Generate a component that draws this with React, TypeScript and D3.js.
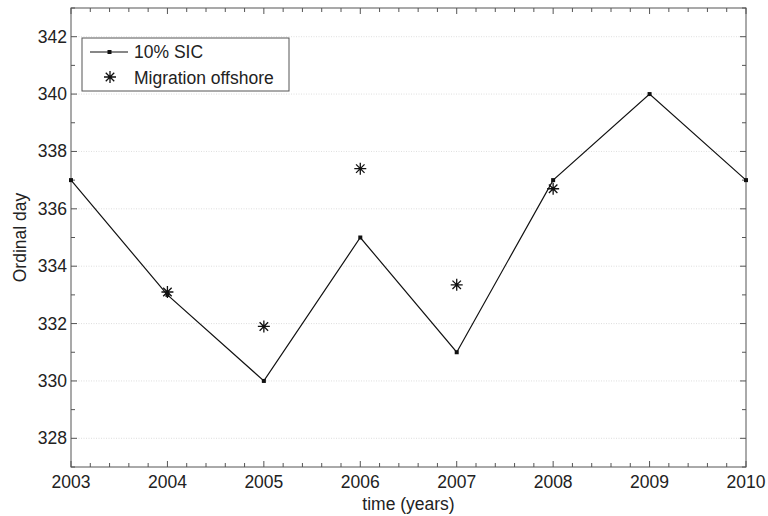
import React from "react";
import * as d3 from "d3";

const years = [2003, 2004, 2005, 2006, 2007, 2008, 2009, 2010];
const sicDay = [337, 333, 330, 335, 331, 337, 340, 337];
const migrationYears = [2004, 2005, 2006, 2007, 2008];
const migrationDay = [333.1, 331.9, 337.4, 333.35, 336.7];
const yTicks = [328, 330, 332, 334, 336, 338, 340, 342];

const W = 768;
const H = 516;
const margin = { left: 71, right: 22, top: 8, bottom: 49 };

function Asterisk({ x, y, r }: { x: number; y: number; r: number }) {
  const d = [0, 45, 90, 135]
    .map((a) => {
      const t = (a * Math.PI) / 180;
      const dx = r * Math.sin(t);
      const dy = r * Math.cos(t);
      return `M${x - dx},${y - dy}L${x + dx},${y + dy}`;
    })
    .join("");
  return <path d={d} stroke="#111" strokeWidth={1.3} fill="none" />;
}

export default function App() {
  const x = d3
    .scaleLinear()
    .domain([2003, 2010])
    .range([margin.left, W - margin.right]);
  const y = d3
    .scaleLinear()
    .domain([327, 343])
    .range([H - margin.bottom, margin.top]);

  const x0 = x.range()[0];
  const x1 = x.range()[1];
  const y0 = y.range()[0];
  const y1 = y.range()[1];

  const line = d3
    .line<number>()
    .x((_, i) => x(years[i]))
    .y((d) => y(d));

  const xMinor = d3.range(2003, 2010.001, 0.2);
  const yMinor = d3.range(327, 343.001, 1);

  const axisColor = "#555";
  const font = "Liberation Sans, Arial, sans-serif";
  const fs = 17.5;

  return (
    <svg
      width={W}
      height={H}
      style={{ position: "absolute", left: 0, top: 0, background: "#fff" }}
      fontFamily={font}
    >
      {/* horizontal grid */}
      {yTicks.map((t) => (
        <line
          key={"g" + t}
          x1={x0}
          x2={x1}
          y1={y(t)}
          y2={y(t)}
          stroke="#d6d6d6"
          strokeWidth={0.8}
          strokeDasharray="1,1.5"
        />
      ))}

      {/* x ticks, bottom and top */}
      {xMinor.map((v, i) => {
        const major = Math.abs(v - Math.round(v)) < 1e-6;
        const len = major ? 6 : 4;
        const px = x(v);
        return (
          <g key={"xt" + i}>
            <line x1={px} x2={px} y1={y0} y2={y0 - len} stroke={axisColor} />
            <line x1={px} x2={px} y1={y1} y2={y1 + len} stroke={axisColor} />
          </g>
        );
      })}
      {/* y ticks, left and right */}
      {yMinor.map((v, i) => {
        const major = yTicks.includes(v);
        const len = major ? 6 : 4;
        const py = y(v);
        return (
          <g key={"yt" + i}>
            <line x1={x0} x2={x0 + len} y1={py} y2={py} stroke={axisColor} />
            <line x1={x1} x2={x1 - len} y1={py} y2={py} stroke={axisColor} />
          </g>
        );
      })}

      {/* frame */}
      <rect
        x={x0}
        y={y1}
        width={x1 - x0}
        height={y0 - y1}
        fill="none"
        stroke={axisColor}
        strokeWidth={1}
      />

      {/* tick labels */}
      {years.map((t) => (
        <text
          key={"xl" + t}
          x={x(t)}
          y={y0 + 20.5}
          textAnchor="middle"
          fontSize={fs}
          fill="#222"
        >
          {t}
        </text>
      ))}
      {yTicks.map((t) => (
        <text
          key={"yl" + t}
          x={x0 - 4}
          y={y(t) + 6}
          textAnchor="end"
          fontSize={fs}
          fill="#222"
        >
          {t}
        </text>
      ))}

      {/* axis titles */}
      <text
        x={(x0 + x1) / 2}
        y={H - 6}
        textAnchor="middle"
        fontSize={fs}
        fill="#222"
      >
        time (years)
      </text>
      <text
        transform={`translate(26,${(y0 + y1) / 2}) rotate(-90)`}
        textAnchor="middle"
        fontSize={fs}
        fill="#222"
      >
        Ordinal day
      </text>

      {/* 10% SIC series */}
      <path d={line(sicDay) ?? ""} fill="none" stroke="#111" strokeWidth={1.2} />
      {sicDay.map((d, i) => (
        <rect
          key={"m" + i}
          x={x(years[i]) - 2}
          y={y(d) - 2}
          width={4}
          height={4}
          fill="#111"
        />
      ))}

      {/* migration offshore */}
      {migrationDay.map((d, i) => (
        <Asterisk key={"a" + i} x={x(migrationYears[i])} y={y(d)} r={6} />
      ))}

      {/* legend */}
      <rect x={82} y={38} width={207} height={53} fill="#fff" stroke={axisColor} strokeWidth={1} />
      <line x1={90} x2={128} y1={52} y2={52} stroke="#111" strokeWidth={1.2} />
      <rect x={107.5} y={50} width={4} height={4} fill="#111" />
      <text x={134} y={58} fontSize={fs} fill="#222">
        10% SIC
      </text>
      <Asterisk x={110} y={77} r={6} />
      <text x={134} y={83.5} fontSize={fs} fill="#222">
        Migration offshore
      </text>
    </svg>
  );
}
